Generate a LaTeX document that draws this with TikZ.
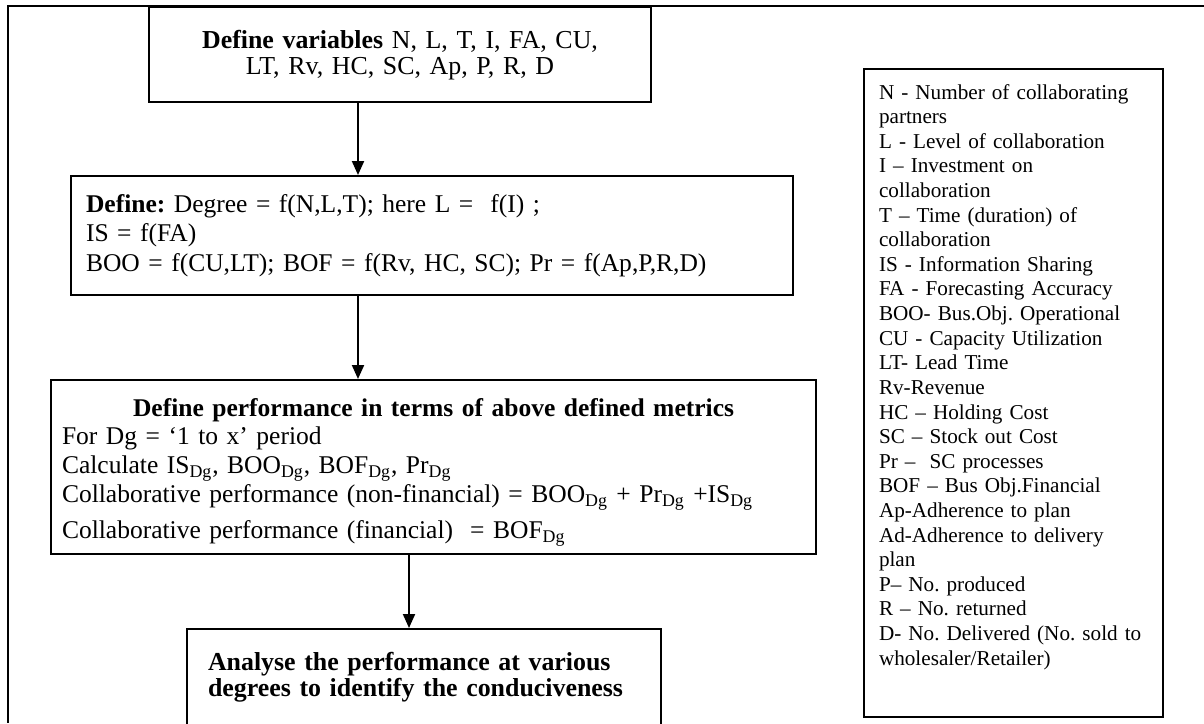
\documentclass[tikz,border=0pt]{standalone}
\usepackage{fontspec}
\setmainfont{Liberation Serif}
\usetikzlibrary{arrows.meta,positioning}
\newlength\pxl
\setlength\pxl{0.5525pt}
\tikzset{
  flowbox/.style={draw, line width=2\pxl, inner ysep=0pt, anchor=north west,
    align=left, font=\fontsize{14.1}{16.3}\selectfont\frenchspacing},
  legendbox/.style={flowbox, inner xsep=15\pxl, text width=269\pxl,
    text height=30\pxl, text depth=618\pxl,
    font=\fontsize{11.7}{13.6}\selectfont\frenchspacing},
  flowarrow/.style={line width=2\pxl, -{Triangle[length=7.7pt,width=6.6pt]}},
}
\begin{document}
\begin{tikzpicture}[x=\pxl, y=-\pxl]
                \useasboundingbox (0,0) rectangle (1204,723);
                \clip (0,0) rectangle (1204,723);
                \draw[line width=2\pxl] (1204,6) -- (8,6) -- (8,723);
                \node[flowbox, align=center, inner xsep=10\pxl, text width=482\pxl,
                  text height=41\pxl, text depth=54\pxl,
                  font=\fontsize{14.3}{14.9}\selectfont] (vars) at (148,6)
                  {\textbf{Define variables} N, L, T, I, FA, CU,\\ LT, Rv, HC, SC, Ap, P, R, D};
                \node[flowbox, inner xsep=15\pxl, text width=692\pxl,
                  text height=36\pxl, text depth=83\pxl] (defn) at (70,175)
                  {\textbf{Define:} Degree = f(N,L,T); here L = \ f(I) ;\\
                   IS = f(FA)\\
                   BOO = f(CU,LT); BOF = f(Rv, HC, SC); Pr = f(Ap,P,R,D)};
                \node[flowbox, inner xsep=11\pxl, text width=743\pxl,
                  text height=36\pxl, text depth=138\pxl,
                  font=\fontsize{14.1}{16}\selectfont\frenchspacing] (perf) at (50,379)
                  {{\centering\textbf{Define performance in terms of above defined metrics}\par}
                   For Dg = `1 to x' period\\
                   Calculate IS\textsubscript{Dg}, BOO\textsubscript{Dg}, BOF\textsubscript{Dg}, Pr\textsubscript{Dg}\\
                   Collaborative performance (non-financial) = BOO\textsubscript{Dg} + Pr\textsubscript{Dg} +IS\textsubscript{Dg}\\[3.5pt]
                   Collaborative performance (financial) \ = BOF\textsubscript{Dg}};
                \node[flowbox, inner xsep=21\pxl, text width=432\pxl,
                  text height=41\pxl, text depth=80\pxl,
                  font=\fontsize{14.3}{14.9}\selectfont] (analyse) at (186,628)
                  {\textbf{Analyse the performance at various}\\
                   \textbf{degrees to identify the conduciveness}};
                \node[legendbox] (legend) at (863,68)
                  {N - Number of collaborating\\ partners\\
                   L - Level of collaboration\\
                   I -- Investment on\\ collaboration\\
                   T -- Time (duration) of\\ collaboration\\
                   IS - Information Sharing\\
                   FA - Forecasting Accuracy\\
                   BOO- Bus.Obj. Operational\\
                   CU - Capacity Utilization\\
                   LT- Lead Time\\
                   Rv-Revenue\\
                   HC -- Holding Cost\\
                   SC -- Stock out Cost\\
                   Pr -- \ SC processes\\
                   BOF -- Bus Obj.Financial\\
                   Ap-Adherence to plan\\
                   Ad-Adherence to delivery\\ plan\\
                   P-- No. produced\\
                   R -- No. returned\\
                   D- No. Delivered (No. sold to\\ wholesaler/Retailer)};
                \draw[flowarrow] (vars.south -| 358,0) -- (defn.north -| 358,0);
                \draw[flowarrow] (defn.south -| 358,0) -- (perf.north -| 358,0);
                \draw[flowarrow] (perf.south -| 409,0) -- (analyse.north -| 409,0);
            \end{tikzpicture}
\end{document}
